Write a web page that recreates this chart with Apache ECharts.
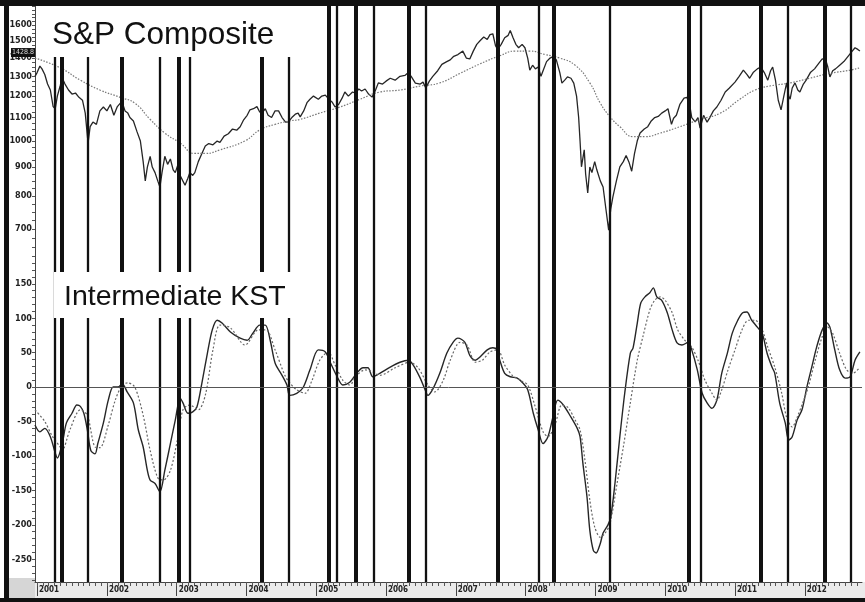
<!DOCTYPE html>
<html><head><meta charset="utf-8">
<script src="https://cdn.jsdelivr.net/npm/echarts@6/dist/echarts.min.js"></script>
<style>html,body{margin:0;padding:0;background:#fff}#c{width:865px;height:602px}</style>
</head><body><div id="c"></div>
<script>
// ---------- data (x = decimal year) ----------
const yearTicks = [2001,2002,2003,2004,2005,2006,2007,2008,2009,2010,2011,2012];
const spxTicks = [700,800,900,1000,1100,1200,1300,1400,1500,1600];
const kstTicks = [-250,-200,-150,-100,-50,0,50,100,150];
const lastValue = 1428.8;

const spx = [[2000.97,1300],[2001.00,1320],[2001.04,1355],[2001.07,1340],[2001.11,1310],[2001.15,1260],[2001.19,1230],[2001.23,1150],[2001.26,1140],[2001.29,1200],[2001.33,1250],[2001.36,1291],[2001.40,1260],[2001.45,1230],[2001.50,1210],[2001.55,1215],[2001.60,1194],[2001.65,1180],[2001.69,1120],[2001.73,992],[2001.76,1060],[2001.80,1080],[2001.85,1070],[2001.90,1130],[2001.95,1148],[2002.00,1130],[2002.05,1160],[2002.10,1110],[2002.15,1150],[2002.19,1165],[2002.22,1170],[2002.26,1130],[2002.30,1120],[2002.33,1100],[2002.38,1085],[2002.43,1040],[2002.48,1000],[2002.52,920],[2002.55,851],[2002.58,900],[2002.62,940],[2002.65,900],[2002.69,880],[2002.73,850],[2002.76,830],[2002.79,880],[2002.83,940],[2002.87,910],[2002.91,930],[2002.95,890],[2002.98,880],[2003.02,910],[2003.05,870],[2003.09,850],[2003.12,836],[2003.16,860],[2003.19,880],[2003.23,870],[2003.26,880],[2003.31,920],[2003.36,950],[2003.41,980],[2003.46,990],[2003.52,985],[2003.58,1000],[2003.62,995],[2003.68,1020],[2003.74,1030],[2003.80,1050],[2003.86,1045],[2003.91,1060],[2003.96,1090],[2004.01,1110],[2004.05,1135],[2004.10,1140],[2004.15,1150],[2004.19,1125],[2004.22,1120],[2004.27,1140],[2004.31,1110],[2004.36,1100],[2004.41,1130],[2004.46,1130],[2004.51,1100],[2004.56,1080],[2004.60,1081],[2004.65,1100],[2004.70,1115],[2004.74,1120],[2004.77,1103],[2004.82,1130],[2004.87,1170],[2004.91,1185],[2004.96,1200],[2005.03,1185],[2005.08,1200],[2005.13,1205],[2005.18,1185],[2005.23,1170],[2005.27,1148],[2005.32,1160],[2005.37,1190],[2005.41,1220],[2005.46,1200],[2005.52,1220],[2005.56,1215],[2005.61,1235],[2005.65,1225],[2005.70,1235],[2005.75,1210],[2005.80,1195],[2005.85,1230],[2005.89,1266],[2005.95,1260],[2006.00,1275],[2006.06,1290],[2006.13,1280],[2006.20,1300],[2006.27,1305],[2006.32,1320],[2006.36,1300],[2006.42,1265],[2006.49,1260],[2006.53,1270],[2006.57,1240],[2006.62,1275],[2006.67,1300],[2006.74,1330],[2006.80,1365],[2006.87,1380],[2006.92,1390],[2006.97,1410],[2007.03,1420],[2007.10,1440],[2007.15,1400],[2007.20,1395],[2007.25,1440],[2007.30,1480],[2007.35,1503],[2007.40,1525],[2007.45,1510],[2007.49,1540],[2007.53,1545],[2007.57,1470],[2007.60,1450],[2007.65,1480],[2007.70,1520],[2007.75,1535],[2007.78,1565],[2007.82,1520],[2007.86,1480],[2007.90,1460],[2007.95,1480],[2007.99,1460],[2008.03,1400],[2008.06,1333],[2008.10,1360],[2008.14,1340],[2008.18,1350],[2008.22,1300],[2008.25,1330],[2008.30,1380],[2008.35,1400],[2008.40,1410],[2008.44,1390],[2008.49,1320],[2008.52,1265],[2008.56,1280],[2008.60,1297],[2008.65,1290],[2008.69,1265],[2008.73,1200],[2008.76,1100],[2008.78,1000],[2008.80,901],[2008.84,965],[2008.86,875],[2008.89,810],[2008.92,900],[2008.95,880],[2008.99,920],[2009.02,890],[2009.07,851],[2009.11,830],[2009.15,760],[2009.19,697],[2009.22,760],[2009.25,797],[2009.30,850],[2009.35,901],[2009.40,920],[2009.44,943],[2009.48,919],[2009.52,885],[2009.56,950],[2009.60,1001],[2009.64,1033],[2009.70,1050],[2009.75,1060],[2009.80,1085],[2009.85,1100],[2009.90,1105],[2009.95,1120],[2010.00,1130],[2010.04,1140],[2010.09,1070],[2010.12,1097],[2010.16,1110],[2010.21,1160],[2010.27,1190],[2010.31,1194],[2010.35,1160],[2010.38,1100],[2010.43,1081],[2010.47,1100],[2010.50,1054],[2010.55,1110],[2010.60,1080],[2010.64,1100],[2010.69,1130],[2010.74,1148],[2010.80,1180],[2010.86,1220],[2010.92,1240],[2011.00,1270],[2011.06,1300],[2011.12,1333],[2011.17,1310],[2011.21,1290],[2011.26,1320],[2011.32,1340],[2011.37,1350],[2011.42,1320],[2011.47,1280],[2011.51,1330],[2011.54,1350],[2011.58,1280],[2011.62,1180],[2011.66,1135],[2011.70,1200],[2011.74,1266],[2011.77,1200],[2011.79,1185],[2011.82,1240],[2011.86,1266],[2011.90,1230],[2011.93,1220],[2011.98,1260],[2012.02,1280],[2012.08,1320],[2012.14,1340],[2012.20,1370],[2012.25,1395],[2012.30,1390],[2012.33,1350],[2012.36,1297],[2012.40,1330],[2012.44,1340],[2012.50,1360],[2012.56,1380],[2012.62,1410],[2012.68,1440],[2012.72,1460],[2012.76,1450],[2012.79,1440]];

const spxAvg = [[2000.97,1400],[2001.33,1346],[2001.62,1280],[2001.90,1230],[2002.19,1194],[2002.40,1166],[2002.62,1092],[2002.83,1033],[2003.05,992],[2003.26,951],[2003.41,951],[2003.62,965],[2003.98,1001],[2004.19,1046],[2004.41,1070],[2004.62,1085],[2004.77,1092],[2005.05,1120],[2005.34,1148],[2005.63,1185],[2005.91,1220],[2006.20,1230],[2006.49,1250],[2006.77,1266],[2007.06,1316],[2007.35,1368],[2007.63,1413],[2007.85,1440],[2008.06,1440],[2008.28,1420],[2008.49,1400],[2008.71,1360],[2008.92,1266],[2009.07,1166],[2009.21,1103],[2009.35,1060],[2009.54,1018],[2009.71,1018],[2009.93,1033],[2010.21,1060],[2010.50,1092],[2010.79,1120],[2011.07,1185],[2011.29,1230],[2011.50,1250],[2011.79,1266],[2012.07,1290],[2012.36,1316],[2012.65,1333],[2012.79,1346]];

const kst = [[2000.97,-55],[2001.04,-65],[2001.11,-60],[2001.19,-72],[2001.26,-96],[2001.29,-103],[2001.36,-82],[2001.42,-52],[2001.50,-38],[2001.57,-26],[2001.62,-28],[2001.67,-38],[2001.72,-62],[2001.77,-92],[2001.83,-97],[2001.87,-82],[2001.95,-52],[2002.02,-19],[2002.09,0],[2002.16,0],[2002.22,5],[2002.29,-7],[2002.38,-23],[2002.45,-62],[2002.52,-87],[2002.58,-121],[2002.62,-135],[2002.69,-140],[2002.76,-152],[2002.83,-121],[2002.91,-82],[2002.98,-48],[2003.05,-16],[2003.09,-23],[2003.16,-38],[2003.23,-36],[2003.29,-29],[2003.36,5],[2003.44,49],[2003.51,83],[2003.58,97],[2003.65,93],[2003.77,80],[2003.91,71],[2004.01,68],[2004.09,78],[2004.19,90],[2004.27,90],[2004.34,68],[2004.41,35],[2004.51,17],[2004.58,3],[2004.62,-12],[2004.72,-9],[2004.81,-1],[2004.91,25],[2005.03,54],[2005.13,51],[2005.20,36],[2005.30,15],[2005.38,3],[2005.48,7],[2005.58,20],[2005.67,28],[2005.74,28],[2005.81,15],[2005.91,20],[2006.06,29],[2006.20,36],[2006.32,39],[2006.39,32],[2006.49,13],[2006.56,-4],[2006.60,-12],[2006.67,-3],[2006.77,20],[2006.87,49],[2006.96,65],[2007.03,71],[2007.13,65],[2007.20,46],[2007.28,39],[2007.35,44],[2007.45,54],[2007.53,57],[2007.59,54],[2007.63,39],[2007.70,20],[2007.78,15],[2007.88,13],[2007.96,6],[2008.03,-4],[2008.11,-38],[2008.18,-62],[2008.25,-82],[2008.32,-72],[2008.39,-44],[2008.46,-19],[2008.54,-26],[2008.64,-42],[2008.74,-60],[2008.78,-72],[2008.82,-110],[2008.88,-160],[2008.92,-208],[2008.97,-237],[2009.01,-241],[2009.07,-227],[2009.11,-212],[2009.18,-200],[2009.22,-189],[2009.28,-140],[2009.35,-72],[2009.42,-9],[2009.50,49],[2009.54,57],[2009.60,93],[2009.65,122],[2009.71,131],[2009.78,137],[2009.83,144],[2009.88,131],[2009.95,126],[2010.03,108],[2010.10,83],[2010.17,64],[2010.24,61],[2010.33,65],[2010.38,54],[2010.46,25],[2010.53,-9],[2010.60,-23],[2010.67,-31],[2010.74,-19],[2010.81,20],[2010.89,49],[2010.96,78],[2011.04,97],[2011.11,108],[2011.17,109],[2011.24,97],[2011.32,87],[2011.39,78],[2011.46,49],[2011.53,29],[2011.57,20],[2011.64,-23],[2011.72,-52],[2011.77,-77],[2011.82,-72],[2011.89,-48],[2011.96,-33],[2012.03,0],[2012.10,29],[2012.17,58],[2012.25,83],[2012.32,93],[2012.36,87],[2012.43,54],[2012.50,25],[2012.58,13],[2012.65,15],[2012.72,39],[2012.79,51]];

const kstSignal = [[2000.97,-33],[2001.11,-50],[2001.21,-70],[2001.33,-87],[2001.36,-92],[2001.47,-62],[2001.62,-33],[2001.72,-41],[2001.83,-87],[2001.90,-88],[2002.02,-55],[2002.12,-19],[2002.22,3],[2002.30,6],[2002.40,0],[2002.52,-41],[2002.62,-92],[2002.73,-132],[2002.81,-135],[2002.91,-121],[2003.01,-77],[2003.09,-33],[2003.19,-26],[2003.31,-33],[2003.41,-12],[2003.52,54],[2003.62,90],[2003.77,86],[2003.98,61],[2004.17,83],[2004.28,83],[2004.41,54],[2004.55,17],[2004.62,6],[2004.72,-4],[2004.84,-9],[2004.94,10],[2005.05,39],[2005.17,51],[2005.27,32],[2005.38,10],[2005.48,3],[2005.58,17],[2005.70,25],[2005.81,22],[2005.91,17],[2006.13,28],[2006.34,36],[2006.46,28],[2006.60,3],[2006.70,-7],[2006.82,10],[2006.92,39],[2007.06,65],[2007.16,61],[2007.28,36],[2007.38,39],[2007.49,51],[2007.60,54],[2007.70,32],[2007.81,17],[2007.92,10],[2008.03,3],[2008.13,-26],[2008.25,-65],[2008.32,-72],[2008.42,-55],[2008.52,-26],[2008.61,-30],[2008.71,-48],[2008.78,-62],[2008.85,-106],[2008.92,-164],[2008.99,-203],[2009.07,-218],[2009.14,-212],[2009.21,-198],[2009.31,-140],[2009.40,-87],[2009.50,-23],[2009.60,39],[2009.68,73],[2009.78,112],[2009.85,126],[2009.93,131],[2010.00,126],[2010.10,108],[2010.18,83],[2010.28,68],[2010.38,58],[2010.47,39],[2010.57,10],[2010.67,-9],[2010.74,-19],[2010.81,-4],[2010.90,25],[2011.00,54],[2011.10,83],[2011.19,97],[2011.29,97],[2011.39,83],[2011.47,58],[2011.57,29],[2011.67,-9],[2011.74,-44],[2011.82,-58],[2011.89,-44],[2011.97,-23],[2012.05,0],[2012.15,39],[2012.25,73],[2012.33,87],[2012.40,78],[2012.50,49],[2012.60,25],[2012.69,20],[2012.79,29]];

const heavySignals = [2001.36,2002.22,2003.03,2004.22,2005.18,2005.56,2006.32,2007.60,2008.41,2010.34,2011.37,2012.28];
const lightSignals = [2001.26,2001.73,2002.76,2003.19,2004.60,2005.30,2005.83,2006.57,2008.19,2009.21,2010.51,2011.75,2012.66];

// ---------- chart ----------
const X_MIN = 2000.97, X_MAX = 2012.82;
const SPX_MIN = 643, SPX_MAX = 1729;
const KST_MIN = -283, KST_MAX = 199;

const monthTicks = [];
yearTicks.forEach(y => { for (let m = 0; m < 12; m++) monthTicks.push(y + m / 12); });
const spxMinor = [];
for (let v = 650; v <= 1725; v += 25) spxMinor.push(Math.log10(v));
const kstMinor = [];
for (let v = -280; v <= 190; v += 10) kstMinor.push(v);

const lblFont = {fontSize: 9, fontWeight: 'bold', fontFamily: '"DejaVu Sans Condensed", "Liberation Sans Narrow", Arial, sans-serif', color: '#222'};

function signalLines() {
  return heavySignals.map(v => ({xAxis: v, lineStyle: {width: 4}}))
    .concat(lightSignals.map(v => ({xAxis: v, lineStyle: {width: 2.3}})));
}

const chart = echarts.init(document.getElementById('c'));
chart.setOption({
  animation: false,
  backgroundColor: '#fff',
  grid: [
    {left: 35, right: 3, top: 6, height: 244},
    {left: 35, right: 3, top: 250, bottom: 20}
  ],
  xAxis: [
    {type: 'value', gridIndex: 0, min: X_MIN, max: X_MAX, axisLine: {show: false}, axisTick: {show: false}, axisLabel: {show: false}, splitLine: {show: false}},
    {type: 'value', gridIndex: 1, min: X_MIN, max: X_MAX, position: 'bottom',
      axisLine: {show: true, onZero: false, lineStyle: {color: '#444', width: 1}},
      axisTick: {show: true, customValues: yearTicks, length: 14, lineStyle: {color: '#444', width: 1}},
      axisLabel: Object.assign({show: true, customValues: yearTicks, formatter: v => String(Math.round(v)), align: 'left', margin: 4, padding: [0, 0, 0, 2]}, lblFont, {fontSize: 8}),
      splitLine: {show: false}},
    {type: 'value', gridIndex: 1, min: X_MIN, max: X_MAX, position: 'bottom',
      axisLine: {show: false, onZero: false},
      axisTick: {show: true, customValues: monthTicks, length: 4, lineStyle: {color: '#555', width: 1}},
      axisLabel: {show: false}, splitLine: {show: false}}
  ],
  yAxis: [
    {type: 'log', gridIndex: 0, min: SPX_MIN, max: SPX_MAX, logBase: 10, show: false, splitLine: {show: false}},
    {type: 'value', gridIndex: 0, min: Math.log10(SPX_MIN), max: Math.log10(SPX_MAX), position: 'left',
      axisLine: {show: true, lineStyle: {color: '#444'}},
      axisTick: {show: true, customValues: spxMinor, length: 3, lineStyle: {color: '#555'}},
      axisLabel: Object.assign({show: true, customValues: spxTicks.map(v => Math.log10(v)), formatter: v => String(Math.round(Math.pow(10, v))), margin: 3}, lblFont),
      splitLine: {show: false}},
    {type: 'value', gridIndex: 1, min: KST_MIN, max: KST_MAX, position: 'left',
      axisLine: {show: true, onZero: false, lineStyle: {color: '#444'}},
      axisTick: {show: true, customValues: kstMinor, length: 3, lineStyle: {color: '#555'}},
      axisLabel: Object.assign({show: true, customValues: kstTicks, formatter: v => String(v), margin: 3}, lblFont),
      splitLine: {show: false}}
  ],
  series: [
    {name: 'S&P Composite', type: 'line', xAxisIndex: 0, yAxisIndex: 0, data: spx, showSymbol: false, smooth: false,
      lineStyle: {color: '#262626', width: 1.3}, z: 3,
      markLine: {silent: true, symbol: ['none', 'none'], label: {show: false}, lineStyle: {color: '#111', type: 'solid'}, data: signalLines()}},
    {name: 'Average', type: 'line', xAxisIndex: 0, yAxisIndex: 0, data: spxAvg, showSymbol: false, smooth: true,
      lineStyle: {color: '#777', width: 1.2, type: [1.5, 1.5]}, z: 3},
    {name: 'Intermediate KST', type: 'line', xAxisIndex: 1, yAxisIndex: 2, data: kst, showSymbol: false, smooth: 0.3,
      lineStyle: {color: '#262626', width: 1.4}, z: 3,
      markLine: {silent: true, symbol: ['none', 'none'], label: {show: false}, lineStyle: {color: '#111', type: 'solid'},
        data: signalLines().concat([{yAxis: 0, lineStyle: {width: 1, color: '#555'}}])}},
    {name: 'KST signal', type: 'line', xAxisIndex: 1, yAxisIndex: 2, data: kstSignal, showSymbol: false, smooth: 0.3,
      lineStyle: {color: '#666', width: 1.2, type: [2, 2]}, z: 3}
  ],
  graphic: [
    {id: 'band', type: 'rect', z: -10, shape: {x: 35, y: 582, width: 830, height: 16}, style: {fill: '#ebebeb'}},
    {id: 'corner', type: 'rect', z: -10, shape: {x: 8, y: 578, width: 27, height: 20}, style: {fill: '#d6d6d6'}},
    {id: 'bTop', type: 'rect', z: 200, shape: {x: 0, y: 0, width: 865, height: 6}, style: {fill: '#111'}},
    {id: 'bLeft', type: 'rect', z: 200, shape: {x: 4, y: 0, width: 5, height: 602}, style: {fill: '#111'}},
    {id: 'bBot', type: 'rect', z: 200, shape: {x: 0, y: 598, width: 865, height: 4}, style: {fill: '#111'}},
    {id: 'box1', type: 'rect', z: 100, shape: {x: 36, y: 6, width: 256, height: 51}, style: {fill: '#fff'}},
    {id: 'title1', type: 'text', z: 101, x: 52, y: 35, style: {text: 'S&P Composite', fontSize: 31.5, fontFamily: '"Liberation Sans", Arial, sans-serif', fill: '#111', verticalAlign: 'middle'}},
    {id: 'box2', type: 'rect', z: 100, shape: {x: 54, y: 272, width: 238, height: 46}, style: {fill: '#fff'}},
    {id: 'title2', type: 'text', z: 101, x: 64, y: 297, style: {text: 'Intermediate KST', fontSize: 28.5, fontFamily: '"Liberation Sans", Arial, sans-serif', fill: '#111', verticalAlign: 'middle'}}
  ]
});

const yLast = chart.convertToPixel({yAxisIndex: 0}, lastValue);
chart.setOption({graphic: [
  {id: 'lastBox', type: 'rect', z: 150, shape: {x: 11, y: yLast - 5, width: 24, height: 9}, style: {fill: '#111'}},
  {id: 'lastTxt', type: 'text', z: 151, x: 23, y: yLast - 0.5, style: {text: String(lastValue), fontSize: 7, fontFamily: '"DejaVu Sans Condensed", Arial, sans-serif', fill: '#ddd', align: 'center', verticalAlign: 'middle'}}
]});
</script></body></html>
